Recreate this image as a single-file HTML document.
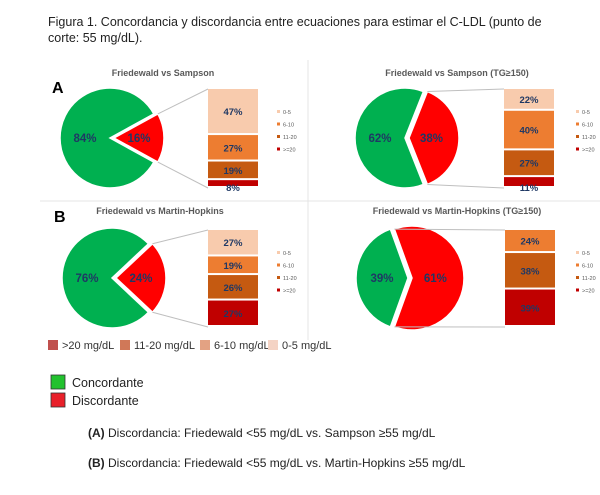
<!DOCTYPE html>
<html><head><meta charset="utf-8"><style>
body{margin:0;background:#fff;}
svg{display:block;font-family:"Liberation Sans",sans-serif;}
</style></head><body>
<svg id="fig" width="600" height="495" viewBox="0 0 600 495" xmlns="http://www.w3.org/2000/svg">
<text x="48" y="26" font-size="12.5" fill="#222">Figura 1. Concordancia y discordancia entre ecuaciones para estimar el C-LDL (punto de</text>
<text x="48" y="42" font-size="12.5" fill="#222">corte: 55 mg/dL).</text>
<line x1="308" y1="60" x2="308" y2="340" stroke="#e4e4e4"/>
<line x1="40" y1="201" x2="600" y2="201" stroke="#e4e4e4"/>
<text x="52" y="93" font-size="16" font-weight="bold" fill="#000">A</text>
<text x="54" y="222" font-size="16" font-weight="bold" fill="#000">B</text>
<g id="panels"></g>
<g>
<rect x="48" y="340" width="10" height="10" fill="#c0504d"/>
<text x="62" y="349" font-size="11" fill="#333">&gt;20 mg/dL</text>
<rect x="120" y="340" width="10" height="10" fill="#d07858"/>
<text x="134" y="349" font-size="11" fill="#333">11-20 mg/dL</text>
<rect x="200" y="340" width="10" height="10" fill="#e3a283"/>
<text x="214" y="349" font-size="11" fill="#333">6-10 mg/dL</text>
<rect x="268" y="340" width="10" height="10" fill="#f4d3c4"/>
<text x="282" y="349" font-size="11" fill="#333">0-5 mg/dL</text>
</g>
<rect x="51" y="375" width="14" height="14" fill="#22c22e" stroke="#333" stroke-width="0.8"/>
<text x="72" y="387" font-size="12.5" fill="#222">Concordante</text>
<rect x="51" y="393" width="14" height="14" fill="#e8202a" stroke="#333" stroke-width="0.8"/>
<text x="72" y="405" font-size="12.5" fill="#222">Discordante</text>
<text x="88" y="437" font-size="12" fill="#222"><tspan font-weight="bold">(A)</tspan> Discordancia: Friedewald &lt;55 mg/dL vs. Sampson ≥55 mg/dL</text>
<text x="88" y="467" font-size="12" fill="#222"><tspan font-weight="bold">(B)</tspan> Discordancia: Friedewald &lt;55 mg/dL vs. Martin-Hopkins ≥55 mg/dL</text>
</svg>
<script>
const panelTitles = ["Friedewald  vs Sampson", "Friedewald  vs Sampson  (TG≥150)", "Friedewald  vs Martin-Hopkins", "Friedewald  vs Martin-Hopkins  (TG≥150)"];
const discordant = [16, 38, 24, 61];
const concordant = [84, 62, 76, 39];
const categories = ["0-5", "6-10", "11-20", ">=20"];
const breakdownA1 = [47, 27, 19, 8];
const breakdownA2 = [22, 40, 27, 11];
const breakdownB1 = [27, 19, 26, 27];
const breakdownB2 = [0, 24, 38, 39];
const breakdowns = [breakdownA1, breakdownA2, breakdownB1, breakdownB2];
const layout = [
 {cx:110, cy:138, r:50, bx:208, by:89, bh:99, lx:277, tx:163, ty:76},
 {cx:405, cy:138, r:50, bx:504, by:89, bh:99, lx:576, tx:457, ty:76},
 {cx:112, cy:278, r:50, bx:208, by:230, bh:97, lx:277, tx:160, ty:214},
 {cx:408, cy:278, r:52, bx:505, by:230, bh:97, lx:576, tx:457, ty:214}
];
const barColors = ["#f8cbad", "#ed7d31", "#c55a11", "#c00000"];
const NS = "http://www.w3.org/2000/svg";
const root = document.getElementById("panels");
function mk(tag, attrs, parent){const e=document.createElementNS(NS,tag);for(const k in attrs)e.setAttribute(k,attrs[k]);(parent||root).appendChild(e);return e;}
function pt(cx,cy,r,deg){const a=deg*Math.PI/180;return [cx+r*Math.cos(a), cy+r*Math.sin(a)];}
function arc(cx,cy,r,a0,a1){const p0=pt(cx,cy,r,a0),p1=pt(cx,cy,r,a1);const large=(a1-a0)>180?1:0;return `M${cx},${cy} L${p0[0]},${p0[1]} A${r},${r} 0 ${large} 1 ${p1[0]},${p1[1]} Z`;}
for(let i=0;i<4;i++){
 const L=layout[i];
 const g=mk("g",{});
 
 
 const t=mk("text",{x:L.tx,y:L.ty,"text-anchor":"middle","font-size":"9","font-weight":"bold",fill:"#595959"},g);
 
 
 t.textContent=panelTitles[i];
 const total=discordant[i]+concordant[i];
 const half=discordant[i]/total*180;
 const ex=4;
 const gp=mk("path",{d:arc(L.cx,L.cy,L.r,half,360-half),fill:"#00b050",stroke:"#fff","stroke-width":"1.5"},g);
 
 
 const rp=mk("path",{d:arc(L.cx+ex,L.cy,L.r,-half,half),fill:"#ff0000",stroke:"#fff","stroke-width":"1.5"},g);
 
 
 const top=pt(L.cx+ex,L.cy,L.r,-half), bot=pt(L.cx+ex,L.cy,L.r,half);
 const c1=mk("line",{x1:top[0],y1:top[1],x2:L.bx,y2:L.by,stroke:"#bfbfbf","stroke-width":"1"},g);
 
 
 const c2=mk("line",{x1:bot[0],y1:bot[1],x2:L.bx,y2:L.by+L.bh,stroke:"#bfbfbf","stroke-width":"1"},g);
 
 
 const gl=mk("text",{x:L.cx-L.r*0.5,y:L.cy+4,"text-anchor":"middle","font-size":"11.5","font-weight":"bold",fill:"#1f3864"},g);
 
 
 gl.textContent=concordant[i]+"%";
 const rl=mk("text",{x:L.cx+ex+L.r*(discordant[i]>30?0.45:0.5),y:L.cy+4,"text-anchor":"middle","font-size":"11.5","font-weight":"bold",fill:"#1f3864"},g);
 
 
 rl.textContent=discordant[i]+"%";
 const vals=breakdowns[i];
 const sum=vals.reduce((a,b)=>a+b,0);
 let y=L.by;
 vals.forEach((v,k)=>{
  if(v<=0)return;
  const h=v/sum*L.bh;
  const r=mk("rect",{x:L.bx,y:y,width:50,height:Math.max(h-2,1),fill:barColors[k]},g);
  
  
  const tx=mk("text",{x:L.bx+25,y:(h<12?y+h+3:y+h/2+3),"text-anchor":"middle","font-size":"9.5","font-weight":"bold",fill:"#1f3864"},g);
  
  
  tx.textContent=v+"%";
  y+=h;
 });
 categories.forEach((c,k)=>{
  const ly=L.by+24+k*12.5;
  const s=mk("rect",{x:L.lx,y:ly-3,width:3,height:3,fill:barColors[k]},g);
  
  
  const lt=mk("text",{x:L.lx+6,y:ly+1,"font-size":"5.5",fill:"#595959"},g);
  
  
  lt.textContent=c;
 });
}
</script>
</body></html>
